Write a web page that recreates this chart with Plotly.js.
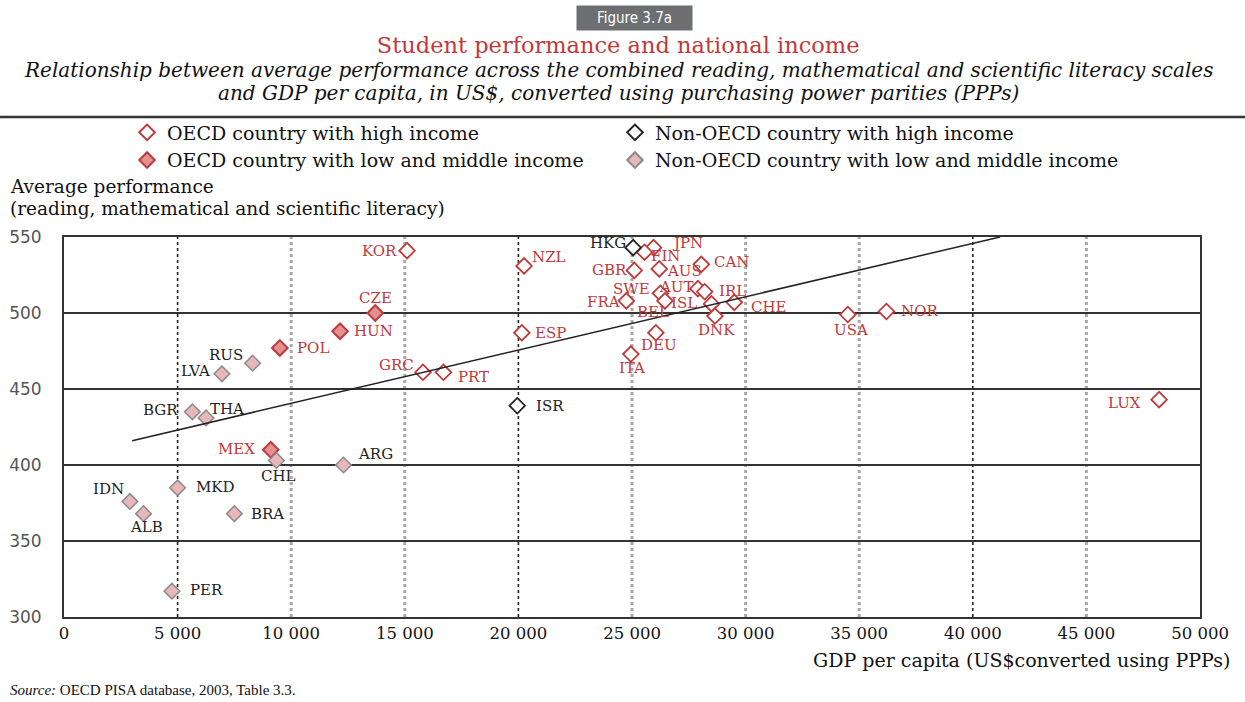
<!DOCTYPE html>
<html>
<head>
<meta charset="utf-8">
<script src="https://cdn.plot.ly/plotly-3.0.1.min.js"></script>
<style>html,body{margin:0;padding:0;background:#fff;}#chart{width:1245px;height:702px;}</style>
</head>
<body>
<div id="chart"></div>
<script>
// ---- Data ----
const oecdHighCodes = ["KOR","NZL","ESP","JPN","FIN","GBR","AUS","CAN","SWE","AUT","IRL","FRA","BEL","ISL","CHE","DNK","DEU","ITA","USA","NOR","LUX","GRC","PRT"];
const oecdHighGDP   = [15100,20250,20150,25950,25550,25100,26200,28050,26250,27900,28200,24750,26450,28500,29500,28650,26050,24950,34500,36200,48200,15800,16700];
const oecdHighPerf  = [541,531,487,543,540,528,529,532,513,516,514,508,508,506,507,498,487,473,499,501,443,461,461];

const nonOecdHighCodes = ["HKG","ISR"];
const nonOecdHighGDP   = [25050,19950];
const nonOecdHighPerf  = [543,439];

const oecdLowCodes = ["CZE","HUN","POL","MEX"];
const oecdLowGDP   = [13700,12150,9500,9100];
const oecdLowPerf  = [500,488,477,410];

const nonOecdLowCodes = ["RUS","LVA","BGR","THA","CHL","ARG","MKD","IDN","ALB","BRA","PER"];
const nonOecdLowGDP   = [8300,6950,5650,6250,9350,12300,5000,2900,3500,7500,4750];
const nonOecdLowPerf  = [467,460,435,431,403,400,385,376,368,368,317];

const trendGDP  = [3000, 41200];
const trendPerf = [416, 550];

const seriesNames = ["OECD country with high income","Non-OECD country with high income","OECD country with low and middle income","Non-OECD country with low and middle income"];

const xTickVals = [0,5000,10000,15000,20000,25000,30000,35000,40000,45000,50000];
const xTickText = ["0","5 000","10 000","15 000","20 000","25 000","30 000","35 000","40 000","45 000","50 000"];
const yTickVals = [300,350,400,450,500,550];
const darkGridX = [5000,20000,40000];
const lightGridX = [10000,15000,25000,30000,35000,45000];

// ---- Label placement (style only): [anchor, x offset px, y offset px (down)] ----
const labelPos = {
  KOR:["right",-8,0], CZE:["center",0,-15], HUN:["left",12,0], POL:["left",15,0],
  RUS:["right",-8,-8], LVA:["right",-10,-3], BGR:["right",-12,-2], THA:["left",2,-9],
  MEX:["right",-14,-1], CHL:["center",2,16], ARG:["left",13,-11], MKD:["left",16,-1],
  IDN:["right",-4,-12], ALB:["center",3,13], BRA:["left",15,0], PER:["left",16,-1],
  GRC:["right",-7,-7], PRT:["left",13,5], NZL:["left",6,-9], ESP:["left",11,0],
  ISR:["left",17,0], HKG:["right",-5,-5], JPN:["left",16,-5], FIN:["left",4,4],
  GBR:["right",-5,0], AUS:["left",6,2], CAN:["left",11,-2], SWE:["right",-8,-4],
  AUT:["right",-3,-2], IRL:["left",12,-1], FRA:["right",-4,1], BEL:["center",-12,11],
  ISL:["right",-13,-1], CHE:["left",15,5], DNK:["center",2,14], DEU:["center",3,12],
  ITA:["center",1,14], USA:["center",3,15], NOR:["left",13,0], LUX:["right",-16,3]
};

const RED = "#c0393b";
const SERIF = "DejaVu Serif, serif";

function pointTrace(name, xs, ys, marker, legendId) {
  return {
    type: "scatter", mode: "markers", name: name, x: xs, y: ys, legend: legendId,
    marker: Object.assign({symbol: "diamond", size: 12}, marker),
    cliponaxis: false
  };
}

const traces = [
  pointTrace(seriesNames[0], oecdHighGDP, oecdHighPerf, {color: "#ffffff", line: {color: RED, width: 1.8}}, "legend"),
  pointTrace(seriesNames[2], oecdLowGDP, oecdLowPerf, {color: "#e39090", line: {color: RED, width: 2}}, "legend"),
  pointTrace(seriesNames[1], nonOecdHighGDP, nonOecdHighPerf, {color: "#ffffff", line: {color: "#222222", width: 1.8}}, "legend2"),
  pointTrace(seriesNames[3], nonOecdLowGDP, nonOecdLowPerf, {color: "#e8b7ba", line: {color: "#8a8a8a", width: 1.5}}, "legend2"),
  {type: "scatter", mode: "lines", x: trendGDP, y: trendPerf, showlegend: false,
   line: {color: "#222222", width: 1.5}, hoverinfo: "skip"}
];

function labelAnnotations(codes, xs, ys, color) {
  return codes.map((c, i) => {
    const p = labelPos[c];
    return {text: c, x: xs[i], y: ys[i], xref: "x", yref: "y", showarrow: false,
      xanchor: p[0], yanchor: "middle", xshift: p[1], yshift: -p[2],
      font: {family: SERIF, size: 15, color: color}};
  });
}

const shapes = [];
lightGridX.forEach(v => shapes.push({type:"line", xref:"x", yref:"paper", x0:v, x1:v, y0:0, y1:1,
  line:{color:"#a8a8a8", width:3, dash:"dot"}, layer:"below"}));
darkGridX.forEach(v => shapes.push({type:"line", xref:"x", yref:"paper", x0:v, x1:v, y0:0, y1:1,
  line:{color:"#222222", width:1.6, dash:"dot"}, layer:"below"}));
shapes.push({type:"line", xref:"paper", yref:"paper", x0:-0.0563, x1:1.0396, y0:1.3158, y1:1.3158,
  line:{color:"#333333", width:2.5}});

const annotations = [
  {text:"Figure 3.7a", xref:"paper", yref:"paper", x:0.5018, y:1.5755, showarrow:false,
   font:{family:"DejaVu Sans Condensed, DejaVu Sans, sans-serif", size:15, color:"#ffffff"},
   bgcolor:"#6d6e70", width:113, height:22, xanchor:"center", yanchor:"middle"},
  {text:"<i>Relationship between average performance across the combined reading, mathematical and scientific literacy scales</i>",
   xref:"paper", yref:"paper", x:0.4877, y:1.4395, showarrow:false, xanchor:"center", yanchor:"middle",
   font:{family:SERIF, size:20, color:"#111111"}},
  {text:"<i>and GDP per capita, in US$, converted using purchasing power parities (PPPs)</i>",
   xref:"paper", yref:"paper", x:0.4877, y:1.3790, showarrow:false, xanchor:"center", yanchor:"middle",
   font:{family:SERIF, size:20, color:"#111111"}},
  {text:"Average performance", xref:"paper", yref:"paper", x:-0.0493, y:1.134, showarrow:false,
   xanchor:"left", yanchor:"middle", font:{family:SERIF, size:18.5, color:"#111111"}},
  {text:"(reading, mathematical and scientific literacy)", xref:"paper", yref:"paper", x:-0.0493, y:1.074, showarrow:false,
   xanchor:"left", yanchor:"middle", font:{family:SERIF, size:18.5, color:"#111111"}},
  {text:"GDP per capita (US$converted using PPPs)", xref:"paper", yref:"paper", x:1.028, y:-0.113, showarrow:false,
   xanchor:"right", yanchor:"middle", font:{family:SERIF, size:19, color:"#111111"}},
  {text:"<i>Source:</i> OECD PISA database, 2003, Table 3.3.", xref:"paper", yref:"paper", x:-0.0493, y:-0.192, showarrow:false,
   xanchor:"left", yanchor:"middle", font:{family:"Liberation Serif, serif", size:15, color:"#111111"}}
].concat(
  labelAnnotations(oecdHighCodes, oecdHighGDP, oecdHighPerf, RED),
  labelAnnotations(nonOecdHighCodes, nonOecdHighGDP, nonOecdHighPerf, "#222222"),
  labelAnnotations(oecdLowCodes, oecdLowGDP, oecdLowPerf, RED),
  labelAnnotations(nonOecdLowCodes, nonOecdLowGDP, nonOecdLowPerf, "#222222")
);

const legendFont = {family: SERIF, size: 19, color: "#111111"};
const layout = {
  width: 1245, height: 702,
  margin: {l: 64, r: 45, t: 237, b: 85},
  paper_bgcolor: "#ffffff", plot_bgcolor: "#ffffff",
  title: {text: "Student performance and national income", x: 0.4965, xanchor: "center",
          y: 0.936, yanchor: "middle", font: {family: SERIF, size: 22.5, color: RED}},
  showlegend: true,
  legend: {orientation: "v", x: 0.0555, xanchor: "left", y: 1.325, yanchor: "top", tracegroupgap: 0,
           itemsizing: "constant", font: legendFont, bgcolor: "rgba(0,0,0,0)", traceorder: "normal"},
  legend2: {orientation: "v", x: 0.485, xanchor: "left", y: 1.325, yanchor: "top", tracegroupgap: 0,
           itemsizing: "constant", font: legendFont, bgcolor: "rgba(0,0,0,0)", traceorder: "normal"},
  xaxis: {range: [0, 50000], tickvals: xTickVals, ticktext: xTickText, showgrid: false, zeroline: false,
          showline: true, mirror: true, linecolor: "#333333", linewidth: 2, ticks: "",
          tickfont: {family: SERIF, size: 16.5, color: "#111111"}},
  yaxis: {range: [300, 550], tickvals: yTickVals, showgrid: true, gridcolor: "#333333", gridwidth: 1.5,
          zeroline: false, showline: true, mirror: true, linecolor: "#333333", linewidth: 2, ticks: "",
          ticklabelstandoff: 17,
          tickfont: {family: "DejaVu Sans, sans-serif", size: 17, color: "#555555"}},
  shapes: shapes,
  annotations: annotations,
  hovermode: "closest"
};

Plotly.newPlot("chart", traces, layout, {displayModeBar: false, responsive: false});
</script>
</body>
</html>
